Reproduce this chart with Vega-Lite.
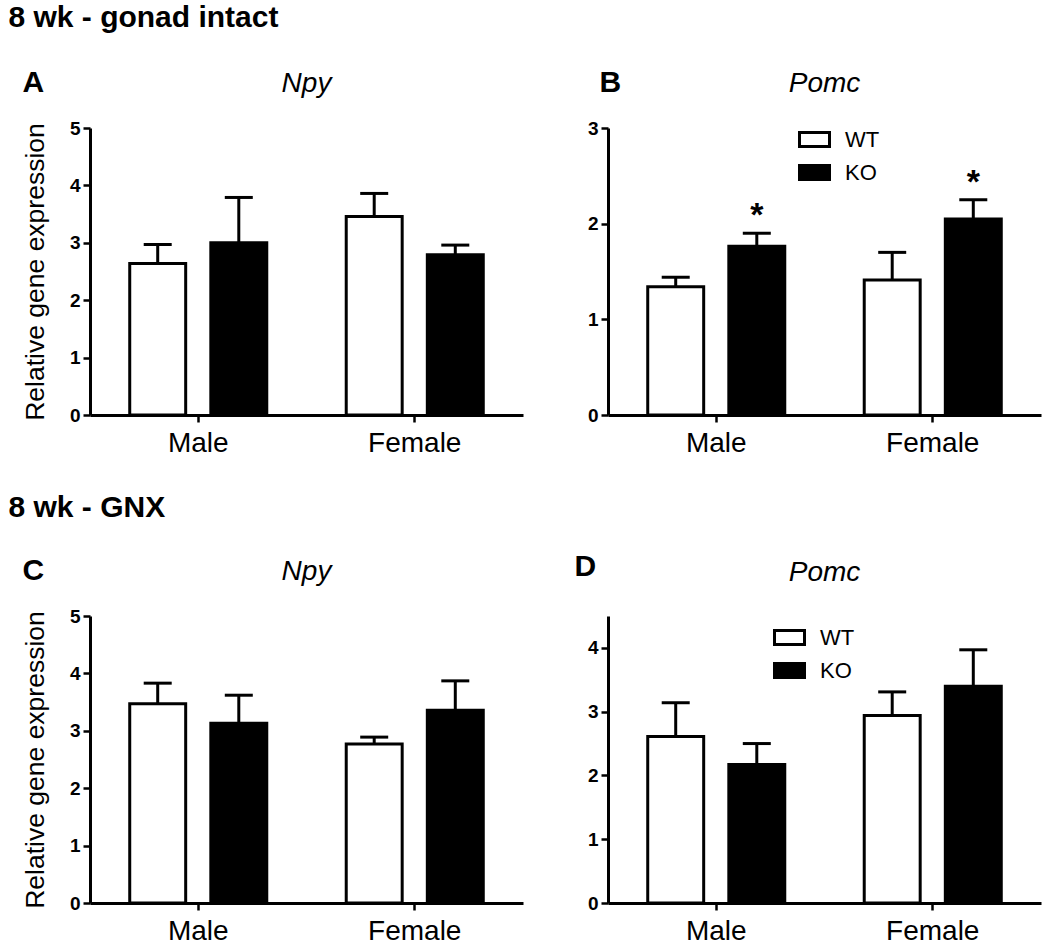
{
  "$schema": "https://vega.github.io/schema/vega-lite/v6.json",
  "padding": {"left": 8, "top": 3, "right": 5, "bottom": 2},
  "data": {"values": [
    {"panel": "A", "sex": "Male", "genotype": "WT", "mean": 2.64, "err": 2.97, "sig": ""},
    {"panel": "A", "sex": "Male", "genotype": "KO", "mean": 3.0, "err": 3.79, "sig": ""},
    {"panel": "A", "sex": "Female", "genotype": "WT", "mean": 3.46, "err": 3.86, "sig": ""},
    {"panel": "A", "sex": "Female", "genotype": "KO", "mean": 2.79, "err": 2.96, "sig": ""},
    {"panel": "B", "sex": "Male", "genotype": "WT", "mean": 1.34, "err": 1.44, "sig": ""},
    {"panel": "B", "sex": "Male", "genotype": "KO", "mean": 1.765, "err": 1.9, "sig": "*"},
    {"panel": "B", "sex": "Female", "genotype": "WT", "mean": 1.41, "err": 1.7, "sig": ""},
    {"panel": "B", "sex": "Female", "genotype": "KO", "mean": 2.05, "err": 2.25, "sig": "*"},
    {"panel": "C", "sex": "Male", "genotype": "WT", "mean": 3.47, "err": 3.83, "sig": ""},
    {"panel": "C", "sex": "Male", "genotype": "KO", "mean": 3.13, "err": 3.62, "sig": ""},
    {"panel": "C", "sex": "Female", "genotype": "WT", "mean": 2.77, "err": 2.89, "sig": ""},
    {"panel": "C", "sex": "Female", "genotype": "KO", "mean": 3.36, "err": 3.87, "sig": ""},
    {"panel": "D", "sex": "Male", "genotype": "WT", "mean": 2.61, "err": 3.14, "sig": ""},
    {"panel": "D", "sex": "Male", "genotype": "KO", "mean": 2.17, "err": 2.5, "sig": ""},
    {"panel": "D", "sex": "Female", "genotype": "WT", "mean": 2.94, "err": 3.31, "sig": ""},
    {"panel": "D", "sex": "Female", "genotype": "KO", "mean": 3.4, "err": 3.97, "sig": ""}
  ]},
  "spacing": 36,
  "resolve": {"scale": {"fill": "independent", "xOffset": "independent", "x": "independent", "y": "independent"}, "legend": {"fill": "independent"}},
  "vconcat": [
    {
      "title": {"text": "8 wk - gonad intact", "anchor": "start", "fontSize": 30, "fontWeight": "bold", "offset": 35, "dx": -14},
      "spacing": 64,
      "resolve": {"scale": {"fill": "independent", "xOffset": "independent", "x": "independent", "y": "independent"}, "legend": {"fill": "independent"}},
      "hconcat": [
        {
          "title": {"text": "A", "anchor": "start", "fontSize": 30, "fontWeight": "bold", "offset": -28},
          "resolve": {"scale": {"fill": "independent", "xOffset": "independent", "x": "independent", "y": "independent"}, "legend": {"fill": "independent"}},
          "vconcat": [
            {
              "title": {"text": "Npy", "anchor": "middle", "fontSize": 28, "fontWeight": "normal", "fontStyle": "italic", "offset": 21},
              "width": 433, "height": 287,
              "transform": [{"filter": "datum.panel === 'A'"}],
              "encoding": {
                "x": {"field": "sex", "type": "nominal", "sort": ["Male", "Female"], "scale": {"paddingInner": 0, "paddingOuter": 0}, "axis": {"title": null}},
                "xOffset": {"field": "genotype", "type": "nominal", "sort": ["WT", "KO"], "scale": {"paddingInner": 0.31, "paddingOuter": 0.49}}
              },
              "layer": [
                {"mark": {"type": "rule", "stroke": "black", "strokeWidth": 3},
                 "encoding": {"y": {"field": "mean", "type": "quantitative", "scale": {"domain": [0, 5], "nice": false}, "axis": {"title": "Relative gene expression", "values": [0, 1, 2, 3, 4, 5]}}, "y2": {"field": "err"}}},
                {"mark": {"type": "tick", "color": "black", "size": 28, "thickness": 3, "opacity": 1},
                 "encoding": {"y": {"field": "err", "type": "quantitative"}}},
                {"mark": {"type": "bar", "stroke": "black", "strokeWidth": 3, "opacity": 1},
                 "encoding": {"y": {"field": "mean", "type": "quantitative"}, "fill": {"field": "genotype", "type": "nominal", "scale": {"domain": ["WT", "KO"], "range": ["white", "black"]}, "legend": null}}}
              ]
            }
          ]
        },
        {
          "title": {"text": "B", "anchor": "start", "fontSize": 30, "fontWeight": "bold", "offset": -28, "dx": 12},
          "resolve": {"scale": {"fill": "independent", "xOffset": "independent", "x": "independent", "y": "independent"}, "legend": {"fill": "independent"}},
          "vconcat": [
            {
              "title": {"text": "Pomc", "anchor": "middle", "fontSize": 28, "fontWeight": "normal", "fontStyle": "italic", "offset": 21},
              "width": 433, "height": 287,
              "transform": [{"filter": "datum.panel === 'B'"}],
              "encoding": {
                "x": {"field": "sex", "type": "nominal", "sort": ["Male", "Female"], "scale": {"paddingInner": 0, "paddingOuter": 0}, "axis": {"title": null}},
                "xOffset": {"field": "genotype", "type": "nominal", "sort": ["WT", "KO"], "scale": {"paddingInner": 0.31, "paddingOuter": 0.49}}
              },
              "layer": [
                {"mark": {"type": "rule", "stroke": "black", "strokeWidth": 3},
                 "encoding": {"y": {"field": "mean", "type": "quantitative", "scale": {"domain": [0, 3], "nice": false}, "axis": {"title": null, "values": [0, 1, 2, 3]}}, "y2": {"field": "err"}}},
                {"mark": {"type": "tick", "color": "black", "size": 28, "thickness": 3, "opacity": 1},
                 "encoding": {"y": {"field": "err", "type": "quantitative"}}},
                {"mark": {"type": "bar", "stroke": "black", "strokeWidth": 3, "opacity": 1},
                 "encoding": {"y": {"field": "mean", "type": "quantitative"}, "fill": {"field": "genotype", "type": "nominal", "scale": {"domain": ["WT", "KO"], "range": ["white", "black"]},
                   "legend": {"orient": "none", "legendX": 190, "legendY": -5, "title": null, "symbolType": "M-1,-0.47H1V0.47H-1Z", "symbolSize": 900, "symbolStrokeColor": "black", "symbolStrokeWidth": 3, "symbolOpacity": 1, "labelFontSize": 22, "labelOffset": 14, "rowPadding": 3, "labelColor": "black"}}}},
                {"mark": {"type": "text", "fontSize": 34, "fontWeight": "bold", "dy": -7, "baseline": "alphabetic", "align": "center", "color": "black"},
                 "encoding": {"y": {"field": "err", "type": "quantitative"}, "text": {"field": "sig"}}}
              ]
            }
          ]
        }
      ]
    },
    {
      "title": {"text": "8 wk - GNX", "anchor": "start", "fontSize": 30, "fontWeight": "bold", "offset": 29, "dx": -14},
      "spacing": 51,
      "resolve": {"scale": {"fill": "independent", "xOffset": "independent", "x": "independent", "y": "independent"}, "legend": {"fill": "independent"}},
      "hconcat": [
        {
          "title": {"text": "C", "anchor": "start", "fontSize": 30, "fontWeight": "bold", "offset": -28},
          "resolve": {"scale": {"fill": "independent", "xOffset": "independent", "x": "independent", "y": "independent"}, "legend": {"fill": "independent"}},
          "vconcat": [
            {
              "title": {"text": "Npy", "anchor": "middle", "fontSize": 28, "fontWeight": "normal", "fontStyle": "italic", "offset": 21},
              "width": 433, "height": 287,
              "transform": [{"filter": "datum.panel === 'C'"}],
              "encoding": {
                "x": {"field": "sex", "type": "nominal", "sort": ["Male", "Female"], "scale": {"paddingInner": 0, "paddingOuter": 0}, "axis": {"title": null}},
                "xOffset": {"field": "genotype", "type": "nominal", "sort": ["WT", "KO"], "scale": {"paddingInner": 0.31, "paddingOuter": 0.49}}
              },
              "layer": [
                {"mark": {"type": "rule", "stroke": "black", "strokeWidth": 3},
                 "encoding": {"y": {"field": "mean", "type": "quantitative", "scale": {"domain": [0, 5], "nice": false}, "axis": {"title": "Relative gene expression", "values": [0, 1, 2, 3, 4, 5]}}, "y2": {"field": "err"}}},
                {"mark": {"type": "tick", "color": "black", "size": 28, "thickness": 3, "opacity": 1},
                 "encoding": {"y": {"field": "err", "type": "quantitative"}}},
                {"mark": {"type": "bar", "stroke": "black", "strokeWidth": 3, "opacity": 1},
                 "encoding": {"y": {"field": "mean", "type": "quantitative"}, "fill": {"field": "genotype", "type": "nominal", "scale": {"domain": ["WT", "KO"], "range": ["white", "black"]}, "legend": null}}}
              ]
            }
          ]
        },
        {
          "title": {"text": "D", "anchor": "start", "fontSize": 30, "fontWeight": "bold", "offset": -23, "dx": -13},
          "resolve": {"scale": {"fill": "independent", "xOffset": "independent", "x": "independent", "y": "independent"}, "legend": {"fill": "independent"}},
          "vconcat": [
            {
              "title": {"text": "Pomc", "anchor": "middle", "fontSize": 28, "fontWeight": "normal", "fontStyle": "italic", "offset": 29},
              "width": 433, "height": 287,
              "transform": [{"filter": "datum.panel === 'D'"}],
              "encoding": {
                "x": {"field": "sex", "type": "nominal", "sort": ["Male", "Female"], "scale": {"paddingInner": 0, "paddingOuter": 0}, "axis": {"title": null}},
                "xOffset": {"field": "genotype", "type": "nominal", "sort": ["WT", "KO"], "scale": {"paddingInner": 0.31, "paddingOuter": 0.49}}
              },
              "layer": [
                {"mark": {"type": "rule", "stroke": "black", "strokeWidth": 3},
                 "encoding": {"y": {"field": "mean", "type": "quantitative", "scale": {"domain": [0, 4.5], "nice": false}, "axis": {"title": null, "values": [0, 1, 2, 3, 4]}}, "y2": {"field": "err"}}},
                {"mark": {"type": "tick", "color": "black", "size": 28, "thickness": 3, "opacity": 1},
                 "encoding": {"y": {"field": "err", "type": "quantitative"}}},
                {"mark": {"type": "bar", "stroke": "black", "strokeWidth": 3, "opacity": 1},
                 "encoding": {"y": {"field": "mean", "type": "quantitative"}, "fill": {"field": "genotype", "type": "nominal", "scale": {"domain": ["WT", "KO"], "range": ["white", "black"]},
                   "legend": {"orient": "none", "legendX": 165, "legendY": 5, "title": null, "symbolType": "M-1,-0.47H1V0.47H-1Z", "symbolSize": 900, "symbolStrokeColor": "black", "symbolStrokeWidth": 3, "symbolOpacity": 1, "labelFontSize": 22, "labelOffset": 14, "rowPadding": 3, "labelColor": "black"}}}}
              ]
            }
          ]
        }
      ]
    }
  ],
  "config": {
    "font": "Liberation Sans",
    "view": {"stroke": null},
    "title": {"color": "black", "font": "Liberation Sans"},
    "axis": {"grid": false, "domainColor": "black", "domainWidth": 3, "tickColor": "black", "tickWidth": 2.5, "tickSize": 7, "labelColor": "black", "titleColor": "black", "labelFont": "Liberation Sans", "titleFont": "Liberation Sans"},
    "axisX": {"labelAngle": 0, "labelFontSize": 28, "labelPadding": 7},
    "axisY": {"labelFontSize": 19, "labelFontWeight": "bold", "labelPadding": 3, "format": "d", "titleFontSize": 26.5, "titleFontWeight": "normal", "titlePadding": 20},
    "legend": {"labelFont": "Liberation Sans"}
  }
}
